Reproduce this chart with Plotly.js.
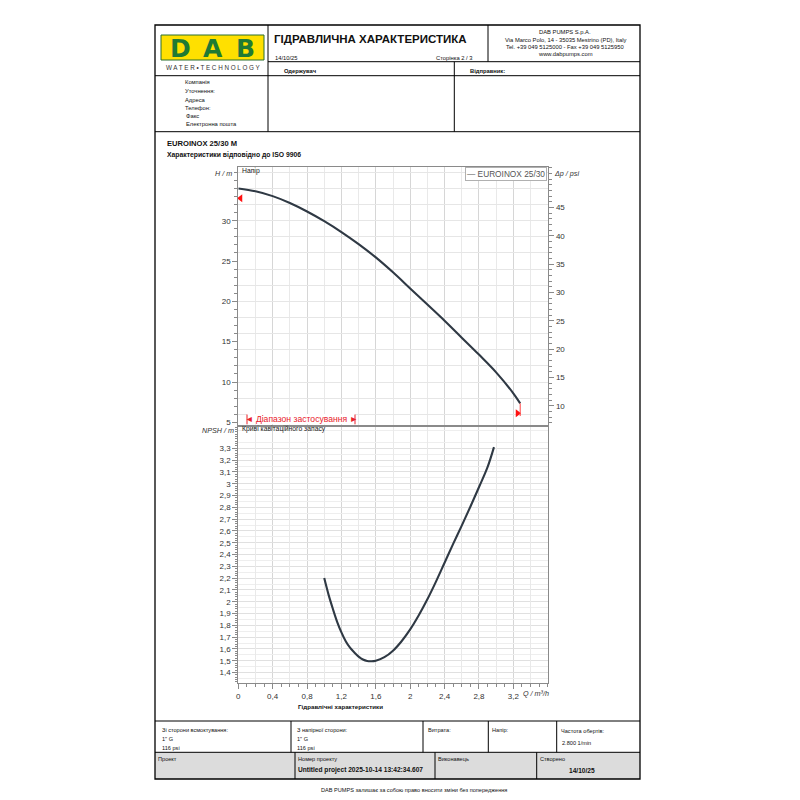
<!DOCTYPE html>
<html>
<head>
<meta charset="utf-8">
<script src="https://cdn.plot.ly/plotly-3.0.1.min.js"></script>
<style>html,body{margin:0;padding:0;background:#fff}#chart{width:800px;height:800px}</style>
</head>
<body>
<div id="chart"></div>
<script>
// ---- data ----
const qHead = [0, 0.2, 0.4, 0.6, 0.8, 1.0, 1.2, 1.4, 1.6, 1.8, 2.0, 2.2, 2.4, 2.6, 2.8, 3.0, 3.2, 3.28];
const head  = [34.0, 33.65, 33.05, 32.2, 31.15, 29.95, 28.6, 27.1, 25.45, 23.6, 21.6, 19.6, 17.6, 15.5, 13.4, 11.2, 8.6, 7.35];
const qNpsh = [1.0, 1.05, 1.1, 1.15, 1.2, 1.25, 1.3, 1.35, 1.4, 1.45, 1.5, 1.55, 1.6, 1.7, 1.8, 1.9, 2.0, 2.1, 2.2, 2.3, 2.4, 2.5, 2.6, 2.7, 2.8, 2.9, 2.975];
const npsh  = [2.20, 2.06, 1.94, 1.83, 1.74, 1.665, 1.61, 1.57, 1.535, 1.51, 1.497, 1.495, 1.50, 1.53, 1.585, 1.665, 1.765, 1.885, 2.02, 2.17, 2.33, 2.49, 2.645, 2.805, 2.97, 3.14, 3.31];
const limitQ = [0.026, 3.249];
const limitH = [32.78, 6.12];
const limitLineH = [7.35, 5.78];
const seriesName = 'EUROINOX 25/30';

const qTicks = [0, 0.4, 0.8, 1.2, 1.6, 2.0, 2.4, 2.8, 3.2];
const qTickText = ['0', '0,4', '0,8', '1,2', '1,6', '2', '2,4', '2,8', '3,2'];
const headTicks = [5, 10, 15, 20, 25, 30];
const psiTicks = [10, 15, 20, 25, 30, 35, 40, 45];
const npshTicks = [1.4,1.5,1.6,1.7,1.8,1.9,2.0,2.1,2.2,2.3,2.4,2.5,2.6,2.7,2.8,2.9,3.0,3.1,3.2,3.3];
const npshTickText = ['1,4','1,5','1,6','1,7','1,8','1,9','2','2,1','2,2','2,3','2,4','2,5','2,6','2,7','2,8','2,9','3','3,1','3,2','3,3'];

const M_TO_PSI = 1.42233;
const qRange = [0, 3.607];
const headRange = [4.73, 36.70];
const npshRange = [1.311, 3.485];

// ---- helpers ----
const F = 'Liberation Sans, Arial, sans-serif';
const X = p => p / 800;
const Y = p => 1 - p / 800;
const AX = '#8a8a8a';
const shapes = [];
const ann = [];
function ln(x0, y0, x1, y1, c, w) { shapes.push({type:'line', xref:'paper', yref:'paper', x0:X(x0), y0:Y(y0), x1:X(x1), y1:Y(y1), line:{color:c||'#000', width:w||1}}); }
function rc(x0, y0, x1, y1, fill, c, w) { shapes.push({type:'rect', xref:'paper', yref:'paper', x0:X(x0), y0:Y(y0), x1:X(x1), y1:Y(y1), fillcolor:fill||'rgba(0,0,0,0)', line:{color:c||'rgba(0,0,0,0)', width:w||0}}); }
function tx(px, py, text, size, o) {
  o = o || {};
  ann.push({xref:'paper', yref:'paper', x:X(px), y:Y(py), text:text, showarrow:false,
    xanchor:o.xa||'left', yanchor:o.ya||'middle', align:o.xa||'left',
    font:{family:o.fam||F, size:size, color:o.color||'#111'},
    bgcolor:o.bg, bordercolor:o.bc, borderwidth:o.bw||0, borderpad:o.bp||0});
}

// ---- page frame ----
rc(161, 35, 264, 60, '#ffe000', '#2a6e2e', 1);
rc(155, 752.3, 640, 779, '#dcdcdc');
rc(155, 25, 640, 779, null, '#000', 1.3);
ln(268, 61.7, 640, 61.7);
ln(155, 75.7, 640, 75.7);
ln(155, 131.7, 640, 131.7);
ln(268, 25, 268, 131.7);
ln(488, 25, 488, 61.7);
ln(454.3, 61.7, 454.3, 131.7);
ln(155, 721, 640, 721);
ln(155, 752.3, 640, 752.3);
[291, 423, 488.3, 556.7].forEach(x => ln(x, 721, x, 752.3));
[295, 435, 536.7].forEach(x => ln(x, 752.3, x, 779));

// logo
tx(180, 48.5, '<b>D</b>', 25, {xa:'center', fam:'DejaVu Sans, sans-serif', color:'#1f7a34'});
tx(212.5, 48.5, '<b>A</b>', 25, {xa:'center', fam:'DejaVu Sans, sans-serif', color:'#1f7a34'});
tx(245, 48.5, '<b>B</b>', 25, {xa:'center', fam:'DejaVu Sans, sans-serif', color:'#1f7a34'});
tx(213, 67.7, 'W A T E R • T E C H N O L O G Y', 6.3, {xa:'center', color:'#333'});

// header texts
tx(274, 39.5, '<b>ГІДРАВЛИЧНА ХАРАКТЕРИСТИКА</b>', 11.5);
tx(275, 58.3, '14/10/25', 5.8);
tx(473, 58.3, 'Сторінка 2 / 3', 5.8, {xa:'right'});
tx(565, 31.7, 'DAB PUMPS S.p.A.', 5.8, {xa:'center'});
tx(565, 39.8, 'Via Marco Polo, 14 - 35035 Mestrino (PD), Italy', 5.8, {xa:'center'});
tx(565, 47.3, 'Tel. +39 049 5125000 - Fax +39 049 5125950', 5.8, {xa:'center'});
tx(565, 54.5, 'www.dabpumps.com', 5.8, {xa:'center'});
tx(283.5, 71, '<b>Одержувач</b>', 5.8);
tx(470, 71, '<b>Відправник:</b>', 5.8);
tx(184.7, 82.3, 'Компанія', 5.8);
tx(184.7, 90.8, 'Уточнення:', 5.8);
tx(184.7, 99.7, 'Адреса', 5.8);
tx(184.7, 107.8, 'Телефон:', 5.8);
tx(185.7, 116, 'Факс', 5.8);
tx(185.7, 124.2, 'Електронна пошта', 5.8);
tx(166.5, 143.3, '<b>EUROINOX 25/30 M</b>', 7.6);
tx(166.5, 155.2, '<b>Характеристики відповідно до ISO 9906</b>', 6.8);

// chart decorations
tx(232, 173.3, '<i>H / m</i>', 7.2, {xa:'right', color:'#333'});
tx(553.5, 173.3, '<i>Δp / psi</i>', 7.2, {color:'#333'});
tx(234, 430.5, '<i>NPSH / m</i>', 7.2, {xa:'right', color:'#333'});
tx(523, 693.3, '<i>Q / m³/h</i>', 7.2, {color:'#333'});
tx(242, 171, 'Напір', 6.8, {color:'#222'});
tx(242, 429.3, 'Криві кавітаційного запасу', 6.8, {color:'#222'});
tx(340, 706.5, '<b>Гідравлічні характеристики</b>', 6.2, {xa:'center'});
tx(547, 167, '— ' + seriesName, 8.3, {xa:'right', ya:'top', color:'#555', bg:'#fff', bc:'#b0b0b0', bw:1, bp:1});
rc(247, 414, 355, 424.3, '#fff');
ln(247, 414.5, 247, 424.3, '#e8202a', 1);
ln(355, 414.5, 355, 424.3, '#e8202a', 1);
tx(301, 419.2, '◄ Діапазон застосування ►', 8.6, {xa:'center', color:'#e8202a'});

// footer texts
const fs = 5.6;
tx(161.7, 730, 'Зі сторони всмоктування:', fs);
tx(161.7, 739.3, '1" G', fs);
tx(161.7, 748.3, '116 psi', fs);
tx(296.7, 730, 'З напірної сторони:', fs);
tx(296.7, 739.3, '1" G', fs);
tx(296.7, 748.3, '116 psi', fs);
tx(428.3, 730, 'Витрата:', fs);
tx(491.7, 730, 'Напір:', fs);
tx(560.5, 731, 'Частота обертів:', fs);
tx(562.3, 742.7, '2.800 1/min', fs);
tx(158.3, 758.7, 'Проект', fs);
tx(297.7, 758.7, 'Номер проекту', fs);
tx(298, 770.3, '<b>Untitled project 2025-10-14 13:42:34.607</b>', 6.6);
tx(437.7, 758.7, 'Виконавець', fs);
tx(540, 758.7, 'Створено', fs);
tx(582, 770.3, '<b>14/10/25</b>', 6.6, {xa:'center'});
tx(413.5, 789.5, 'DAB PUMPS залишає за собою право вносити зміни без попередження', 5.6, {xa:'center'});

// red limit line at curve end (data coords)
shapes.push({type:'line', xref:'x', yref:'y', x0:qHead[qHead.length-1], x1:qHead[qHead.length-1], y0:limitLineH[0], y1:limitLineH[1], line:{color:'#ff4040', width:1}});

// ---- traces ----
const curveColor = '#2f3944';
const inv = (xa, ya) => ({x:[qRange[0]], y:[0], xaxis:xa, yaxis:ya, mode:'markers', marker:{opacity:0}, hoverinfo:'skip', showlegend:false});
const data = [
  inv('x', 'y3'), inv('x', 'y4'), inv('x3', 'y2'), inv('x2', 'y5'),
  {x:qHead, y:head, xaxis:'x', yaxis:'y', mode:'lines', name:seriesName, line:{color:curveColor, width:2.1, shape:'spline', smoothing:1}, hoverinfo:'skip'},
  {x:[limitQ[0]], y:[limitH[0]], xaxis:'x', yaxis:'y', mode:'markers', marker:{symbol:'triangle-left', size:7, color:'#ff1010'}, hoverinfo:'skip', cliponaxis:false},
  {x:[limitQ[1]], y:[limitH[1]], xaxis:'x', yaxis:'y', mode:'markers', marker:{symbol:'triangle-right', size:7, color:'#ff1010'}, hoverinfo:'skip', cliponaxis:false},
  {x:qNpsh, y:npsh, xaxis:'x2', yaxis:'y2', mode:'lines', line:{color:curveColor, width:2.1, shape:'spline', smoothing:1}, hoverinfo:'skip'}
];

const tickFont = {family:F, size:8, color:'#333'};
const xDom = [X(238.3), X(548.3)];
const topDom = [Y(424.5), Y(166.7)];
const botDom = [Y(683), Y(426.5)];

const layout = {
  width:800, height:800, margin:{l:0, r:0, t:0, b:0, pad:0},
  paper_bgcolor:'#fff', plot_bgcolor:'#fff', showlegend:false, separators:',.',
  font:{family:F},
  xaxis:{domain:xDom, range:qRange, anchor:'y', tickmode:'array', tickvals:qTicks, showticklabels:false, ticks:'',
    showgrid:true, gridcolor:'#d6d6d6', gridwidth:1,
    minor:{tickmode:'linear', tick0:0.2, dtick:0.4, showgrid:true, gridcolor:'#e9e9e9', ticks:''},
    showline:true, mirror:true, linecolor:AX, linewidth:1, zeroline:false},
  yaxis:{domain:topDom, range:headRange, anchor:'x', tickmode:'array', tickvals:headTicks, ticks:'outside', ticklen:5, tickcolor:AX,
    minor:{tickmode:'linear', tick0:0, dtick:1, ticks:'outside', ticklen:3, tickcolor:AX, showgrid:false},
    showgrid:false, showline:true, mirror:true, linecolor:AX, linewidth:1, zeroline:false, tickfont:tickFont},
  yaxis3:{overlaying:'y', side:'right', anchor:'x', range:[headRange[0]*M_TO_PSI, headRange[1]*M_TO_PSI],
    tickmode:'array', tickvals:psiTicks, ticks:'outside', ticklen:5, tickcolor:AX,
    minor:{tickmode:'linear', tick0:0, dtick:1, ticks:'outside', ticklen:3, tickcolor:AX, showgrid:false},
    showgrid:false, showline:false, zeroline:false, tickfont:tickFont},
  yaxis4:{overlaying:'y', anchor:'x', range:headRange, tickmode:'linear', tick0:0, dtick:2, showgrid:true, gridcolor:'#e6e6e6',
    showticklabels:false, ticks:'', showline:false, zeroline:false},
  xaxis2:{domain:xDom, range:qRange, anchor:'y2', tickmode:'array', tickvals:qTicks, ticktext:qTickText, ticks:'outside', ticklen:5, tickcolor:AX,
    minor:{tickmode:'linear', tick0:0, dtick:0.1, ticks:'outside', ticklen:3, tickcolor:AX, showgrid:false},
    showgrid:true, gridcolor:'#d6d6d6', showline:true, mirror:true, linecolor:AX, linewidth:1, zeroline:false, tickfont:tickFont},
  xaxis3:{overlaying:'x2', anchor:'y2', range:qRange, tickmode:'linear', tick0:0.2, dtick:0.4, showgrid:true, gridcolor:'#e9e9e9',
    showticklabels:false, ticks:'', showline:false, zeroline:false},
  yaxis2:{domain:botDom, range:npshRange, anchor:'x2', tickmode:'array', tickvals:npshTicks, ticktext:npshTickText, ticks:'outside', ticklen:5, tickcolor:AX,
    minor:{tickmode:'linear', tick0:0, dtick:0.02, ticks:'outside', ticklen:2.5, tickcolor:AX, showgrid:false},
    showgrid:true, gridcolor:'#e0e0e0', showline:true, mirror:true, linecolor:AX, linewidth:1, zeroline:false, tickfont:tickFont},
  yaxis5:{overlaying:'y2', anchor:'x2', range:npshRange, tickmode:'linear', tick0:0.05, dtick:0.1, showgrid:true, gridcolor:'#eeeeee',
    showticklabels:false, ticks:'', showline:false, zeroline:false},
  shapes:shapes, annotations:ann
};

Plotly.newPlot('chart', data, layout, {displayModeBar:false, staticPlot:true});
</script>
</body>
</html>
